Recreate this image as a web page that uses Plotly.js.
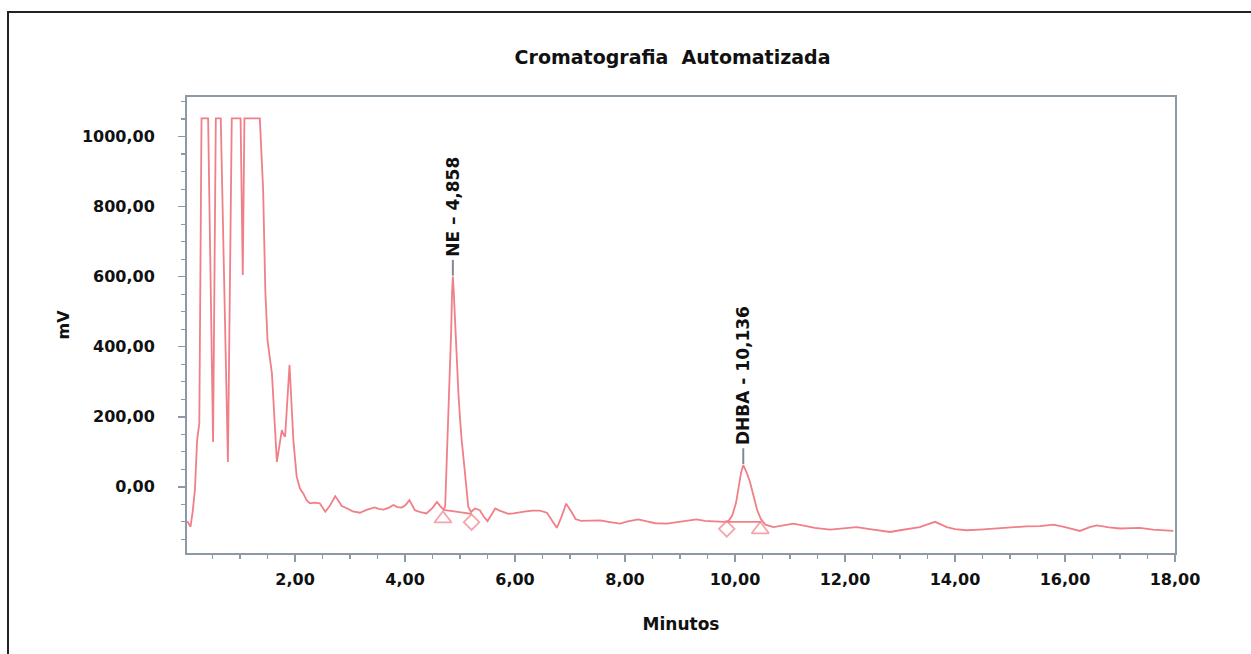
<!DOCTYPE html>
<html><head><meta charset="utf-8">
<script src="https://cdn.plot.ly/plotly-3.0.1.min.js"></script>
<style>
html,body{margin:0;padding:0;background:#fff;overflow:hidden;}
#chart{width:1251px;height:654px;}
#frame{position:absolute;left:7px;top:11px;width:1400px;height:800px;border:2px solid #222;pointer-events:none;}
</style></head><body>
<div id="chart"></div><div id="frame"></div>
<script>
// Retention time (min)
const timeMin = [0.04,0.06,0.10,0.14,0.18,0.22,0.26,0.30,0.42,0.51,0.56,0.65,0.78,0.85,1.01,1.05,1.08,1.36,1.42,1.46,1.50,1.54,1.58,1.67,1.76,1.79,1.82,1.90,1.93,1.97,
2.03,2.09,2.15,2.21,2.27,2.35,2.45,2.55,2.63,2.73,2.79,2.85,2.95,3.05,3.18,3.30,3.45,3.52,3.61,3.70,3.79,3.86,3.94,4.01,4.08,4.13,4.18,4.28,4.39,4.50,4.58,4.64,
4.70,4.73,4.77,4.81,4.84,4.855,4.87,4.885,4.91,4.94,4.97,5.00,5.03,5.09,5.15,5.20,5.27,5.36,5.43,5.50,5.57,5.64,5.72,5.80,5.88,5.97,6.10,6.20,6.32,6.45,6.58,6.67,6.76,6.84,6.93,7.02,7.10,7.20,7.35,7.55,7.70,7.91,
8.05,8.24,8.40,8.55,8.76,8.95,9.10,9.30,9.45,9.67,9.80,9.88,9.95,10.02,10.07,10.11,10.15,10.20,10.27,10.33,10.40,10.47,10.55,10.70,10.82,10.94,11.06,11.25,11.45,11.73,11.95,
12.21,12.45,12.65,12.82,13.00,13.20,13.36,13.50,13.64,13.75,13.85,14.00,14.21,14.45,14.70,15.00,15.30,15.55,15.79,16.00,16.27,16.45,16.58,16.80,17.00,17.20,17.36,17.60,17.80,17.97];
// Detector signal (mV)
const signalMV = [-98,-105,-114,-70,-9,133,181,1052,1052,128,1052,1052,71,1052,1052,605,1052,1052,849,560,419,370,324,71,162,150,143,348,260,133,
29,-5,-19,-38,-47,-45,-47,-71,-55,-27,-40,-55,-62,-70,-74,-66,-59,-63,-65,-60,-52,-58,-59,-52,-38,-55,-67,-72,-76,-60,-43,-55,
-65,-57,110,300,450,555,600,560,470,360,270,195,134,40,-57,-72,-62,-67,-85,-98,-78,-62,-68,-72,-77,-76,-72,-70,-68,-68,-74,-95,-117,-88,-48,-70,-92,-97,-96,-96,-100,-105,
-99,-93,-99,-104,-105,-101,-97,-93,-97,-100,-100,-98,-82,-45,0,40,62,45,15,-25,-65,-92,-108,-115,-112,-108,-105,-111,-117,-122,-118,
-115,-121,-126,-129,-124,-118,-115,-107,-100,-108,-115,-121,-124,-122,-119,-115,-113,-112,-108,-115,-126,-115,-110,-116,-119,-118,-117,-122,-124,-126];

// Identified peaks
const peakNames = ['NE – 4,858', 'DHBA - 10,136'];
const peakTimes = [4.87, 10.15];
const peakHeights = [600, 62];

// Integration baselines
const baseStartT = [4.70, 9.86];
const baseStartV = [-66, -100];
const baseEndT = [5.21, 10.48];
const baseEndV = [-77, -100];

// Integration markers
const markT = [4.69, 5.21, 9.85, 10.46];
const markV = [-91, -101, -120, -122];
const markSym = ['triangle-up-open', 'diamond-open', 'diamond-open', 'triangle-up-open'];
const markSize = [15, 12, 12, 15];

const xTickVals = [2,4,6,8,10,12,14,16,18];
const yTickVals = [0,200,400,600,800,1000];

const RED = '#f07f87';
const AXIS = '#8d99a6';
const FONT = 'DejaVu Sans';
const leader = 48;

const bx = [], by = [];
baseStartT.forEach((t,i)=>{ bx.push(t, baseEndT[i], null); by.push(baseStartV[i], baseEndV[i], null); });
const lx = [], ly = [];
peakTimes.forEach((t,i)=>{ lx.push(t, t, null); ly.push(peakHeights[i]+3, peakHeights[i]+leader, null); });

const traces = [
  {x: timeMin, y: signalMV, type:'scatter', mode:'lines', line:{color:RED, width:1.8}, hoverinfo:'skip'},
  {x: bx, y: by, type:'scatter', mode:'lines', line:{color:RED, width:1.8}, hoverinfo:'skip'},
  {x: markT, y: markV, type:'scatter', mode:'markers', marker:{symbol:markSym, size:markSize, color:RED, line:{color:RED, width:1.8}}, hoverinfo:'skip'},
  {x: lx, y: ly, type:'scatter', mode:'lines', line:{color:'#7f8893', width:2}, hoverinfo:'skip'}
];

const annotations = peakNames.map((name,i)=>({
  x: peakTimes[i], y: peakHeights[i]+leader, xref:'x', yref:'y',
  text: name, showarrow:false, textangle:-90, xanchor:'center', yanchor:'bottom', yshift:1,
  font:{family:FONT, size:17, color:'#111', weight:'bold'}
}));

const layout = {
  width:1251, height:654,
  margin:{l:187, r:76, t:97, b:101},
  paper_bgcolor:'#fff', plot_bgcolor:'#fff',
  showlegend:false,
  separators:',.',
  title:{text:'Cromatografia&nbsp; Automatizada', xref:'container', yref:'container', x:0.5376, y:0.9128, xanchor:'center', yanchor:'middle',
         font:{family:FONT, size:19, color:'#111', weight:'bold'}},
  xaxis:{range:[0.036,18], tickvals:xTickVals, tickformat:'.2f', showgrid:false, zeroline:false,
         showline:true, linecolor:AXIS, linewidth:2, mirror:true,
         ticks:'outside', ticklen:7, tickwidth:1.5, tickcolor:AXIS, ticklabelstandoff:4,
         minor:{dtick:0.5, tick0:0, ticks:'outside', ticklen:4, tickcolor:AXIS, tickwidth:1.2, showgrid:false},
         tickfont:{family:FONT, size:16, color:'#111', weight:'bold'},
         title:{text:'Minutos', standoff:30, font:{family:FONT, size:17, color:'#111', weight:'bold'}}},
  yaxis:{range:[-189,1113], tickvals:yTickVals, tickformat:'.2f', showgrid:false, zeroline:false,
         showline:true, linecolor:AXIS, linewidth:2, mirror:true,
         ticks:'outside', ticklen:7, tickwidth:1.5, tickcolor:AXIS, ticklabelstandoff:20,
         minor:{dtick:50, tick0:0, ticks:'outside', ticklen:4, tickcolor:AXIS, tickwidth:1.2, showgrid:false},
         tickfont:{family:FONT, size:16, color:'#111', weight:'bold'},
         title:{text:'mV', standoff:8, font:{family:FONT, size:16, color:'#111', weight:'bold'}}},
  annotations: annotations
};

Plotly.newPlot('chart', traces, layout, {displayModeBar:false, staticPlot:true});
</script>
</body></html>
